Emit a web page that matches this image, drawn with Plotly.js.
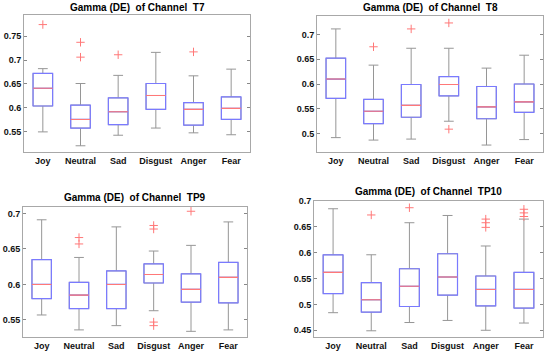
<!DOCTYPE html>
<html>
<head>
<meta charset="utf-8">
<script src="https://cdn.plot.ly/plotly-3.0.1.min.js"></script>
<style>html,body{margin:0;padding:0;background:#fff;}#chart{width:550px;height:353px;}</style>
</head>
<body>
<div id="chart"></div>
<script>
const categories = ['Joy', 'Neutral', 'Sad', 'Disgust', 'Anger', 'Fear'];
const channels = ['T7', 'T8', 'TP9', 'TP10'];

// T7
const T7_lo  = [0.550, 0.521, 0.543, 0.558, 0.548, 0.544];
const T7_q1  = [0.604, 0.558, 0.565, 0.597, 0.564, 0.576];
const T7_med = [0.641, 0.576, 0.592, 0.626, 0.597, 0.599];
const T7_q3  = [0.672, 0.606, 0.621, 0.651, 0.611, 0.623];
const T7_hi  = [0.682, 0.651, 0.668, 0.716, 0.667, 0.681];
const T7_outCat = ['Joy', 'Neutral', 'Neutral', 'Sad', 'Anger'];
const T7_outVal = [0.774, 0.737, 0.706, 0.711, 0.717];

// T8
const T8_lo  = [0.492, 0.487, 0.489, 0.525, 0.477, 0.488];
const T8_q1  = [0.571, 0.520, 0.533, 0.576, 0.530, 0.543];
const T8_med = [0.610, 0.545, 0.557, 0.599, 0.554, 0.564];
const T8_q3  = [0.652, 0.569, 0.599, 0.615, 0.595, 0.600];
const T8_hi  = [0.711, 0.638, 0.672, 0.672, 0.632, 0.658];
const T8_outCat = ['Neutral', 'Sad', 'Disgust', 'Disgust'];
const T8_outVal = [0.675, 0.711, 0.723, 0.509];

// TP9
const TP9_lo  = [0.557, 0.536, 0.542, 0.563, 0.534, 0.536];
const TP9_q1  = [0.580, 0.566, 0.566, 0.602, 0.575, 0.574];
const TP9_med = [0.600, 0.585, 0.600, 0.614, 0.593, 0.610];
const TP9_q3  = [0.635, 0.603, 0.619, 0.629, 0.615, 0.631];
const TP9_hi  = [0.691, 0.638, 0.681, 0.647, 0.655, 0.688];
const TP9_outCat = ['Neutral', 'Neutral', 'Disgust', 'Disgust', 'Disgust', 'Disgust', 'Anger'];
const TP9_outVal = [0.666, 0.657, 0.683, 0.678, 0.547, 0.542, 0.703];

// TP10
const TP10_lo  = [0.484, 0.449, 0.465, 0.469, 0.450, 0.464];
const TP10_q1  = [0.521, 0.485, 0.496, 0.518, 0.497, 0.493];
const TP10_med = [0.562, 0.509, 0.535, 0.553, 0.529, 0.529];
const TP10_q3  = [0.596, 0.542, 0.569, 0.598, 0.555, 0.562];
const TP10_hi  = [0.685, 0.596, 0.658, 0.672, 0.613, 0.665];
const TP10_outCat = ['Neutral', 'Sad', 'Anger', 'Anger', 'Anger', 'Fear', 'Fear', 'Fear'];
const TP10_outVal = [0.673, 0.687, 0.665, 0.658, 0.649, 0.684, 0.677, 0.670];

const stats = {
  T7:   {lo: T7_lo, q1: T7_q1, med: T7_med, q3: T7_q3, hi: T7_hi, oc: T7_outCat, ov: T7_outVal},
  T8:   {lo: T8_lo, q1: T8_q1, med: T8_med, q3: T8_q3, hi: T8_hi, oc: T8_outCat, ov: T8_outVal},
  TP9:  {lo: TP9_lo, q1: TP9_q1, med: TP9_med, q3: TP9_q3, hi: TP9_hi, oc: TP9_outCat, ov: TP9_outVal},
  TP10: {lo: TP10_lo, q1: TP10_q1, med: TP10_med, q3: TP10_q3, hi: TP10_hi, oc: TP10_outCat, ov: TP10_outVal}
};

const W = 550, H = 353;
// pixel boxes of plot areas [left, right, top, bottom]
const boxesPx = [[24, 250, 15, 152], [317, 543, 16, 152], [23, 247, 207, 337], [314, 543, 201, 337]];
const ranges = [[0.508, 0.794], [0.463, 0.737], [0.526, 0.709], [0.437, 0.700]];
const tickStart = [0.55, 0.5, 0.55, 0.45];
const titleY = [8, 7, 197, 191];

const font = {family: 'Liberation Sans, Arial, sans-serif', size: 9, color: '#111', weight: 'bold'};
const BLUE = 'rgb(122,122,255)';
const GREY = 'rgb(150,150,150)';
const RED = 'rgb(255,120,120)';

const traces = [];
const layout = {
  width: W, height: H,
  margin: {l: 0, r: 0, t: 0, b: 0},
  paper_bgcolor: '#fff', plot_bgcolor: '#fff',
  showlegend: false,
  boxmode: 'overlay',
  annotations: []
};

channels.forEach((ch, i) => {
  const s = stats[ch];
  const n = i + 1;
  const xa = n === 1 ? 'x' : 'x' + n;
  const ya = n === 1 ? 'y' : 'y' + n;
  const common = {type: 'box', x: categories, xaxis: xa, yaxis: ya, boxpoints: false,
    width: 0.52, whiskerwidth: 0.5, fillcolor: 'rgba(0,0,0,0)', hoverinfo: 'skip'};
  // whiskers (grey)
  traces.push(Object.assign({}, common, {q1: s.q1, median: s.med, q3: s.q3,
    lowerfence: s.lo, upperfence: s.hi, line: {color: GREY, width: 1}}));
  // box (blue)
  traces.push(Object.assign({}, common, {q1: s.q1, median: s.med, q3: s.q3,
    lowerfence: s.q1, upperfence: s.q3, line: {color: BLUE, width: 1.2}}));
  // median (red)
  traces.push(Object.assign({}, common, {q1: s.med, median: s.med, q3: s.med,
    lowerfence: s.med, upperfence: s.med, line: {color: RED, width: 1.1}}));
  // outliers
  traces.push({type: 'scatter', mode: 'markers', x: s.oc, y: s.ov, xaxis: xa, yaxis: ya,
    marker: {symbol: 'cross-thin', size: 6, color: RED, line: {color: RED, width: 1}}, hoverinfo: 'skip'});

  const b = boxesPx[i];
  const xKey = n === 1 ? 'xaxis' : 'xaxis' + n;
  const yKey = n === 1 ? 'yaxis' : 'yaxis' + n;
  layout[xKey] = {
    domain: [b[0] / W, b[1] / W], anchor: ya, type: 'category',
    categoryorder: 'array', categoryarray: categories, range: [-0.5, 5.5],
    showline: true, linecolor: '#a8a8a8', linewidth: 1, mirror: true,
    ticks: '', showgrid: false, zeroline: false, tickfont: font, fixedrange: true
  };
  layout[yKey] = {
    domain: [1 - b[3] / H, 1 - b[2] / H], anchor: xa, range: ranges[i],
    tick0: tickStart[i], dtick: 0.05, ticks: 'inside', ticklen: 3, tickcolor: '#888',
    showline: true, linecolor: '#a8a8a8', linewidth: 1, mirror: 'ticks',
    showgrid: false, zeroline: false, tickfont: font, fixedrange: true
  };
  layout.annotations.push({
    text: 'Gamma (DE)\u00a0\u00a0of Channel\u00a0\u00a0' + ch, xref: 'paper', yref: 'paper',
    x: (b[0] + b[1]) / 2 / W, y: 1 - titleY[i] / H, xanchor: 'center', yanchor: 'middle',
    showarrow: false, font: {family: font.family, size: 10, color: '#000', weight: 'bold'}
  });
});

Plotly.newPlot('chart', traces, layout, {staticPlot: true, displayModeBar: false});
</script>
</body>
</html>
